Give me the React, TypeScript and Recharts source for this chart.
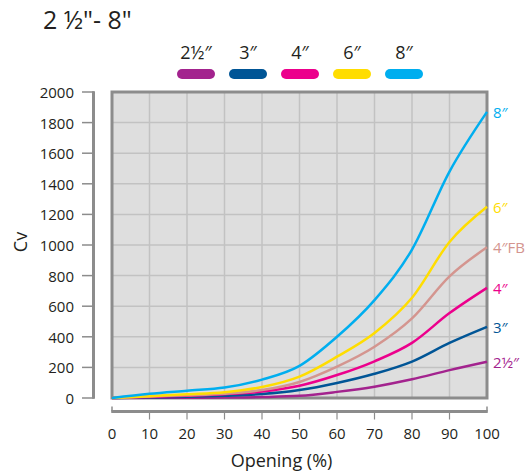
import {
  LineChart,
  Line,
  XAxis,
  YAxis,
  CartesianGrid,
  ReferenceArea,
  Legend,
} from "recharts";

// opening (%) on x, Cv on y
const OPENING = [0, 10, 20, 30, 40, 50, 60, 70, 80, 90, 100];
const CV_2_HALF = [0, 1, 2, 3, 6, 14, 40, 74, 122, 182, 237];
const CV_3 = [0, 4, 8, 15, 26, 52, 98, 158, 238, 360, 465];
const CV_4 = [0, 7, 15, 25, 42, 80, 150, 240, 360, 555, 720];
const CV_4FB = [0, 10, 18, 28, 52, 105, 205, 335, 520, 795, 985];
const CV_6 = [0, 12, 24, 38, 72, 140, 270, 425, 655, 1020, 1250];
const CV_8 = [0, 28, 48, 68, 120, 210, 400, 640, 970, 1480, 1870];
const Y_TICKS = [0, 200, 400, 600, 800, 1000, 1200, 1400, 1600, 1800, 2000];

const SERIES = [
  { key: "s25", name: "2½″", color: "#a3238e", values: CV_2_HALF, legend: true },
  { key: "s3", name: "3″", color: "#005596", values: CV_3, legend: true },
  { key: "s4", name: "4″", color: "#ec008c", values: CV_4, legend: true },
  { key: "s4fb", name: "4″FB", color: "#d4958f", values: CV_4FB, legend: false },
  { key: "s6", name: "6″", color: "#ffdd00", values: CV_6, legend: true },
  { key: "s8", name: "8″", color: "#00aeef", values: CV_8, legend: true },
];

const data = OPENING.map((x, i) => {
  const row: Record<string, number> = { x };
  SERIES.forEach((s) => (row[s.key] = s.values[i]));
  return row;
});

const FONT = "'Open Sans', sans-serif";
const AXIS = "#8c8c8c";
const PLOT_W = 375;
const PLOT_H = 306;

function YTick(props: any) {
  const { x, y, payload } = props;
  const v = payload.value;
  return (
    <g>
      {v === 0 && (
        <line x1={x - 18.5} x2={x - 18.5} y1={y + 0.75} y2={y - PLOT_H - 0.75} stroke={AXIS} strokeWidth={3} />
      )}
      <line x1={x - 30} x2={x - 18} y1={y} y2={y} stroke={AXIS} strokeWidth={1.5} />
      <text x={x - 38} y={y} textAnchor="end" dominantBaseline="central" fontSize={15} fontFamily={FONT} fill="#231f20">
        {v}
      </text>
    </g>
  );
}

function XTick(props: any) {
  const { x, y, payload } = props;
  const v = payload.value;
  const barY = y + 13.5;
  const isEnd = v === 0 || v === 100;
  return (
    <g>
      {v === 0 && (
        <line x1={x - 0.75} x2={x + PLOT_W + 0.75} y1={barY} y2={barY} stroke={AXIS} strokeWidth={3} />
      )}
      {isEnd ? (
        <line x1={x} x2={x} y1={barY - 5} y2={barY} stroke={AXIS} strokeWidth={1.5} />
      ) : (
        <line x1={x} x2={x} y1={barY} y2={barY + 8} stroke={AXIS} strokeWidth={1.2} />
      )}
      <text x={x} y={y + 35} textAnchor="middle" dominantBaseline="central" fontSize={15} fontFamily={FONT} fill="#231f20">
        {v}
      </text>
    </g>
  );
}

function CvLabel(props: any) {
  const { viewBox } = props;
  const cx = viewBox.x + 20;
  const cy = viewBox.y + viewBox.height / 2 - 3;
  return (
    <text
      x={cx}
      y={cy}
      transform={`rotate(-90 ${cx} ${cy})`}
      textAnchor="middle"
      dominantBaseline="central"
      fontSize={18}
      fontFamily={FONT}
      fill="#231f20"
    >
      Cv
    </text>
  );
}

function LegendContent() {
  return (
    <div style={{ display: "flex", fontFamily: FONT }}>
      {SERIES.filter((s) => s.legend).map((s) => (
        <div key={s.key} style={{ width: 52, display: "flex", flexDirection: "column", alignItems: "center" }}>
          <div style={{ fontSize: 18, lineHeight: "24px", color: "#231f20" }}>{s.name}</div>
          <div style={{ width: 38, height: 10, borderRadius: 5, background: s.color, marginTop: 5 }} />
        </div>
      ))}
    </div>
  );
}

export default function App() {
  return (
    <div style={{ position: "absolute", left: 0, top: 0, width: 526, height: 472, background: "#fff" }}>
      <div
        style={{
          position: "absolute",
          left: 43,
          top: 4,
          fontSize: 25,
          lineHeight: "30px",
          fontFamily: FONT,
          color: "#231f20",
        }}
      >
        2 ½"- 8"
      </div>
      <LineChart width={526} height={472} data={data} margin={{ top: 92, right: 39, left: 0, bottom: 0 }}>
        <CartesianGrid fill="#dedede" stroke="#c2c2c2" strokeWidth={1.5} />
        <XAxis
          dataKey="x"
          type="number"
          domain={[0, 100]}
          ticks={OPENING}
          interval={0}
          height={74}
          axisLine={false}
          tickLine={false}
          tickSize={0}
          tickMargin={0}
          tick={<XTick />}
          label={{
            value: "Opening (%)",
            position: "insideBottom",
            offset: 5,
            dx: -18,
            fontSize: 18,
            fontFamily: FONT,
            fill: "#231f20",
          }}
        />
        <YAxis
          type="number"
          domain={[0, 2000]}
          ticks={Y_TICKS}
          interval={0}
          width={112}
          axisLine={false}
          tickLine={false}
          tickSize={0}
          tickMargin={0}
          tick={<YTick />}
          label={{ content: <CvLabel /> }}
        />
        <Legend
          layout="vertical"
          align="center"
          verticalAlign="middle"
          wrapperStyle={{ top: 40, left: 170, width: 270 }}
          content={<LegendContent />}
        />
        {SERIES.map((s) => (
          <Line
            key={s.key}
            dataKey={s.key}
            name={s.name}
            type="monotone"
            stroke={s.color}
            strokeWidth={2.5}
            dot={false}
            activeDot={false}
            legendType={s.legend ? "line" : "none"}
            isAnimationActive={false}
            label={(p: any) =>
              p.index === OPENING.length - 1 ? (
                <text
                  x={p.x + 6}
                  y={p.y}
                  dominantBaseline="central"
                  fontSize={15}
                  fontFamily={FONT}
                  fill={s.color}
                >
                  {s.name}
                </text>
              ) : null
            }
          />
        ))}
        <ReferenceArea x1={0} x2={100} y1={0} y2={2000} fill="none" stroke={AXIS} strokeWidth={3} ifOverflow="visible" />
      </LineChart>
    </div>
  );
}
